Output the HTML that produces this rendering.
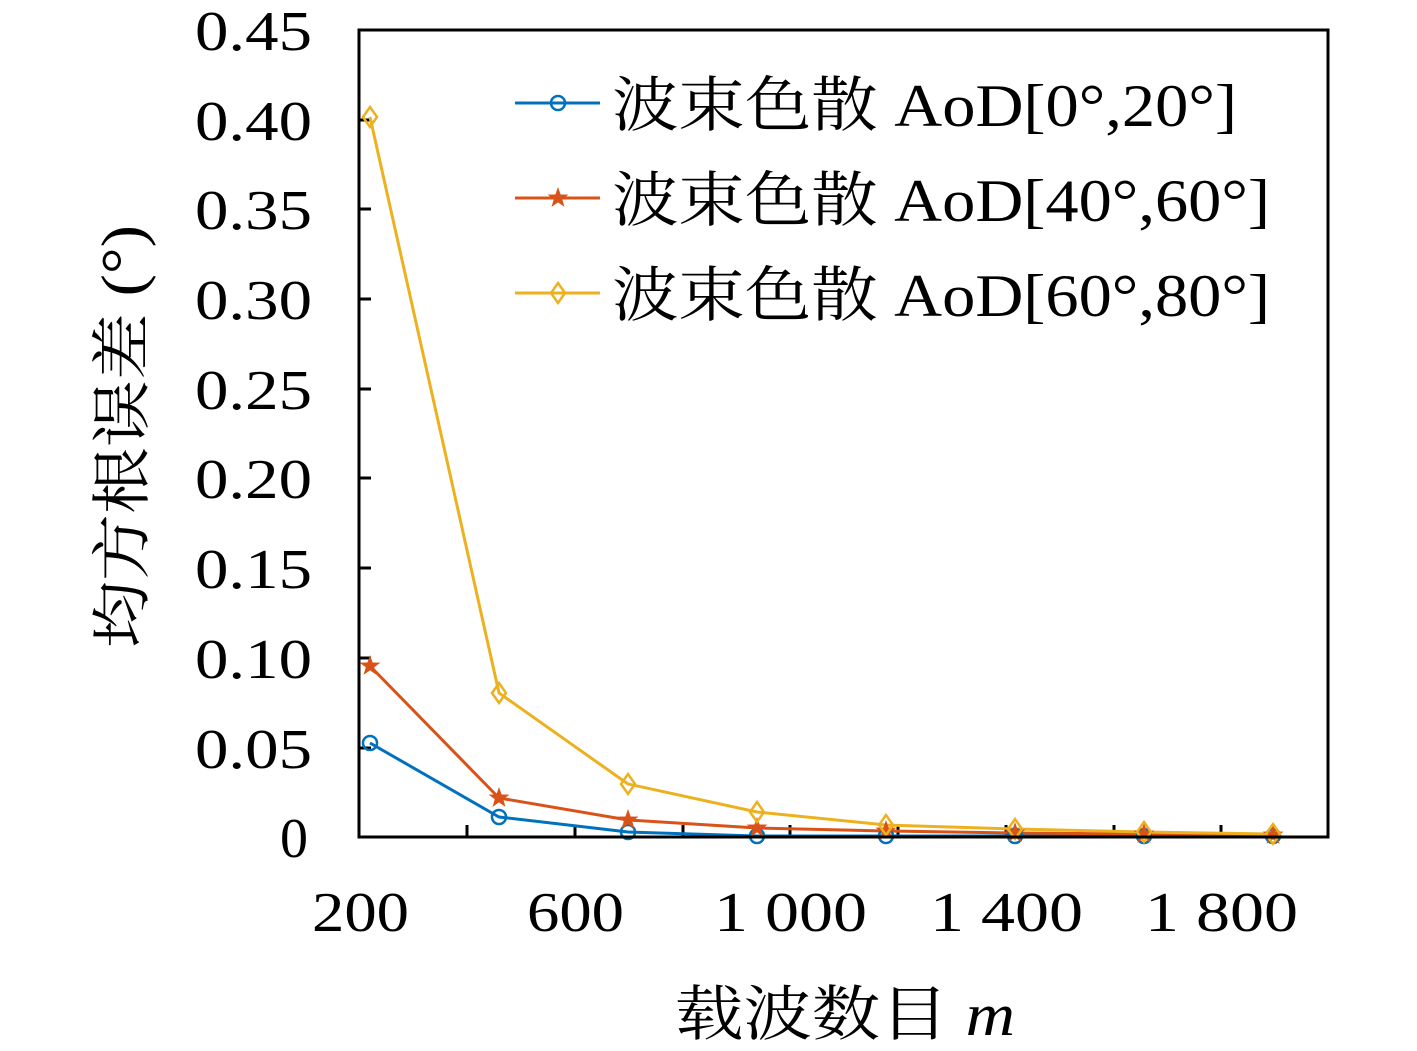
<!DOCTYPE html>
<html><head><meta charset="utf-8"><style>
html,body{margin:0;padding:0;background:#fff;}
svg{display:block}
text{font-family:"Liberation Serif","Noto Serif CJK SC",serif;fill:#000}
</style></head><body>
<svg width="1417" height="1051" viewBox="0 0 1417 1051" xmlns="http://www.w3.org/2000/svg">
<rect x="0" y="0" width="1417" height="1051" fill="#fff"/>
<g stroke="#000" stroke-width="3">
<line x1="359" y1="748" x2="371" y2="748"/><line x1="359" y1="658" x2="371" y2="658"/>
<line x1="359" y1="568" x2="371" y2="568"/><line x1="359" y1="478" x2="371" y2="478"/>
<line x1="359" y1="389" x2="371" y2="389"/><line x1="359" y1="299" x2="371" y2="299"/>
<line x1="359" y1="209" x2="371" y2="209"/><line x1="359" y1="120" x2="371" y2="120"/>
<line x1="467" y1="837" x2="467" y2="825"/><line x1="575" y1="837" x2="575" y2="825"/>
<line x1="683" y1="837" x2="683" y2="825"/><line x1="790" y1="837" x2="790" y2="825"/>
<line x1="898" y1="837" x2="898" y2="825"/><line x1="1006" y1="837" x2="1006" y2="825"/>
<line x1="1114" y1="837" x2="1114" y2="825"/><line x1="1221" y1="837" x2="1221" y2="825"/>
</g>
<g fill="none" stroke-width="3">
<polyline stroke="#0072BD" points="370,743 499,817 628,832 757,836 886,836 1015,836 1144,836 1273,836"/>
<polyline stroke="#D95319" points="370,666 499,798 628,820 757,828 886,831 1015,833 1144,834 1273,835"/>
<polyline stroke="#EDB120" points="370,117 499,693 628,784 757,812 886,825 1015,829 1144,832 1273,834"/>
</g>
<g fill="none" stroke="#0072BD" stroke-width="2.5">
<circle cx="370" cy="743" r="7"/><circle cx="499" cy="817" r="7"/><circle cx="628" cy="832" r="7"/><circle cx="757" cy="836" r="7"/><circle cx="886" cy="836" r="7"/><circle cx="1015" cy="836" r="7"/><circle cx="1144" cy="836" r="7"/><circle cx="1273" cy="836" r="7"/>
</g>
<defs>
<polygon id="star" points="0,-11 2.6,-3.5 10.5,-3.4 4.2,1.3 6.5,8.9 0,4.4 -6.5,8.9 -4.2,1.3 -10.5,-3.4 -2.6,-3.5" fill="#D95319"/>
<polygon id="dia" points="0,-10 7,0 0,10 -7,0" fill="none" stroke="#EDB120" stroke-width="2.5"/>
</defs>
<use href="#star" x="370" y="666"/><use href="#star" x="499" y="798"/><use href="#star" x="628" y="820"/><use href="#star" x="757" y="828"/><use href="#star" x="886" y="831"/><use href="#star" x="1015" y="833"/><use href="#star" x="1144" y="834"/><use href="#star" x="1273" y="835"/>
<use href="#dia" x="370" y="117"/><use href="#dia" x="499" y="693"/><use href="#dia" x="628" y="784"/><use href="#dia" x="757" y="812"/><use href="#dia" x="886" y="825"/><use href="#dia" x="1015" y="829"/><use href="#dia" x="1144" y="832"/><use href="#dia" x="1273" y="834"/>
<rect x="359" y="30" width="969" height="807" fill="none" stroke="#000" stroke-width="3"/>
<line x1="515" y1="103" x2="600" y2="103" stroke="#0072BD" stroke-width="3"/>
<circle cx="558" cy="103" r="7" fill="none" stroke="#0072BD" stroke-width="2.5"/>
<line x1="515" y1="198" x2="600" y2="198" stroke="#D95319" stroke-width="3"/>
<use href="#star" x="558" y="198"/>
<line x1="515" y1="293" x2="600" y2="293" stroke="#EDB120" stroke-width="3"/>
<use href="#dia" x="558" y="293"/>
<g font-size="60" lengthAdjust="spacingAndGlyphs">
<text x="612" y="126" textLength="625" lengthAdjust="spacingAndGlyphs">波束色散 AoD[0°,20°]</text>
<text x="612" y="221" textLength="658" lengthAdjust="spacingAndGlyphs">波束色散 AoD[40°,60°]</text>
<text x="612" y="316" textLength="658" lengthAdjust="spacingAndGlyphs">波束色散 AoD[60°,80°]</text>
</g>
<g font-size="56">
<text x="280" y="857">0</text>
<text x="195" y="768" textLength="117" lengthAdjust="spacingAndGlyphs">0.05</text>
<text x="195" y="678" textLength="117" lengthAdjust="spacingAndGlyphs">0.10</text>
<text x="195" y="588" textLength="117" lengthAdjust="spacingAndGlyphs">0.15</text>
<text x="195" y="498" textLength="117" lengthAdjust="spacingAndGlyphs">0.20</text>
<text x="195" y="409" textLength="117" lengthAdjust="spacingAndGlyphs">0.25</text>
<text x="195" y="319" textLength="117" lengthAdjust="spacingAndGlyphs">0.30</text>
<text x="195" y="229" textLength="117" lengthAdjust="spacingAndGlyphs">0.35</text>
<text x="195" y="140" textLength="117" lengthAdjust="spacingAndGlyphs">0.40</text>
<text x="195" y="50" textLength="117" lengthAdjust="spacingAndGlyphs">0.45</text>
</g>
<g font-size="56">
<text x="312" y="931" textLength="97" lengthAdjust="spacingAndGlyphs">200</text>
<text x="527" y="931" textLength="97" lengthAdjust="spacingAndGlyphs">600</text>
<text x="714" y="931" textLength="153" lengthAdjust="spacingAndGlyphs">1 000</text>
<text x="930" y="931" textLength="153" lengthAdjust="spacingAndGlyphs">1 400</text>
<text x="1145" y="931" textLength="153" lengthAdjust="spacingAndGlyphs">1 800</text>
</g>
<text x="675" y="1035" font-size="60" textLength="340" lengthAdjust="spacingAndGlyphs">载波数目 <tspan font-style="italic">m</tspan></text>
<text transform="translate(143,648) rotate(-90)" font-size="60" textLength="423" lengthAdjust="spacingAndGlyphs">均方根误差 (°)</text>
</svg>
</body></html>
